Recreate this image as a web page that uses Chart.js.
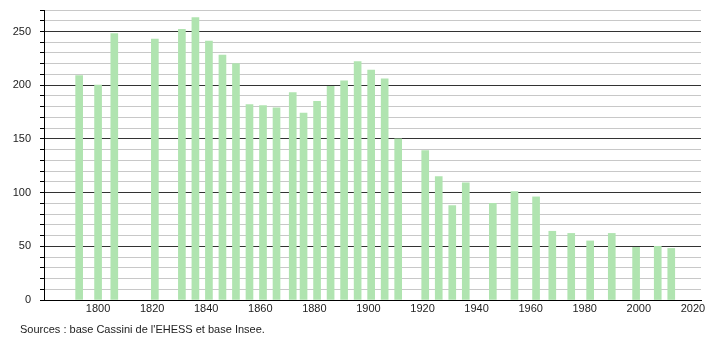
<!DOCTYPE html>
<html>
<head>
<meta charset="utf-8">
<script src="https://cdn.jsdelivr.net/npm/chart.js@4"></script>
<style>
  html, body { margin: 0; padding: 0; background: #fff; }
  #wrap { position: relative; width: 710px; height: 340px; }
</style>
</head>
<body>
<div id="wrap"><canvas id="chartPop" width="710" height="340"></canvas></div>
<script>
    'use strict';

    // census years and population
    var years = [1793, 1800, 1806, 1821, 1831, 1836, 1841, 1846, 1851, 1856, 1861, 1866,
        1872, 1876, 1881, 1886, 1891, 1896, 1901, 1906, 1911, 1921, 1926, 1931, 1936,
        1946, 1954, 1962, 1968, 1975, 1982, 1990, 1999, 2007, 2012];
    var population = [209, 200, 248, 243, 252, 263, 241, 228, 220, 182, 181, 179,
        193, 174, 185, 199, 204, 222, 214, 206, 150, 139, 115, 88, 109,
        90, 101, 96, 64, 62, 55, 62, 49, 50, 48];
    var xTicks = [1800, 1820, 1840, 1860, 1880, 1900, 1920, 1940, 1960, 1980, 2000, 2020];
    var yLabels = [0, 50, 100, 150, 200, 250];
    var sourceText = "Sources : base Cassini de l'EHESS et base Insee.";

    var points = years.map((y, i) => ({ x: y, y: population[i] }));

    var footer = {
        id: 'footer',
        afterDraw(chart) {
            var c = chart.ctx;
            c.save();
            c.font = '11px "Liberation Sans", Arial, sans-serif';
            c.fillStyle = '#222';
            c.textBaseline = 'middle';
            c.fillText(sourceText, 20, 330);
            c.restore();
        }
    };

    var ctx = document.getElementById('chartPop');
    var popChart = new Chart(ctx, {
        type: 'bar',
        data: {
            datasets: [{
                data: points,
                backgroundColor: '#b0e4b0',
                barThickness: 7
            }]
        },
        options: {
            responsive: false,
            animation: false,
            layout: { padding: { top: 10, right: 9, bottom: 20, left: 0 } },
            plugins: { legend: { display: false }, tooltip: { enabled: false } },
            scales: {
                x: {
                    type: 'linear',
                    min: 1780,
                    max: 2023,
                    offset: false,
                    afterBuildTicks: s => { s.ticks = xTicks.map(v => ({ value: v })); },
                    afterFit: s => { s.height = 20; },
                    grid: { display: false, drawTicks: false, offset: false },
                    border: { color: '#000', width: 1 },
                    ticks: {
                        padding: 2,
                        maxRotation: 0,
                        autoSkip: false,
                        color: '#222',
                        font: { family: '"Liberation Sans", Arial, sans-serif', size: 11 },
                        callback: v => String(v)
                    }
                },
                y: {
                    min: 0,
                    max: 270,
                    afterFit: s => { s.width = 44; s.paddingTop = 0; s.paddingBottom = 0; },
                    afterBuildTicks: s => {
                        var t = [];
                        for (var v = 0; v <= 270; v += 10) t.push({ value: v });
                        s.ticks = t;
                    },
                    ticks: {
                        autoSkip: false,
                        padding: 9,
                        color: '#222',
                        font: { family: '"Liberation Sans", Arial, sans-serif', size: 11 },
                        callback: v => yLabels.includes(v) ? String(v) : ''
                    },
                    grid: {
                        color: c => c.tick.value % 50 === 0 ? '#333' : '#c8c8c8',
                        tickColor: '#000',
                        tickLength: 4
                    },
                    border: { color: '#000', width: 1 }
                }
            }
        },
        plugins: [footer]
    });
</script>
</body>
</html>
